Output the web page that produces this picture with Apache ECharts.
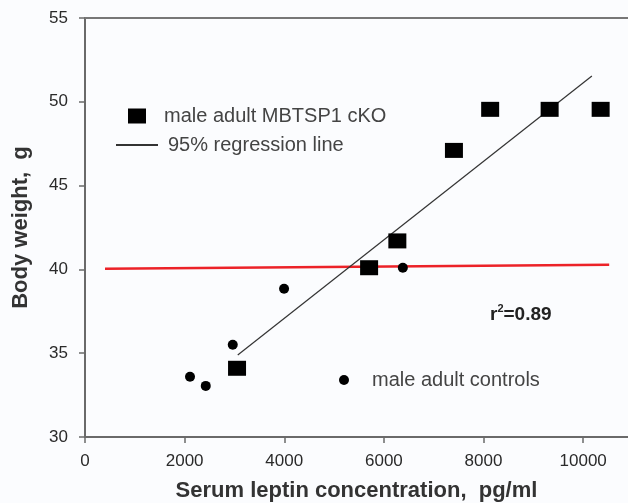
<!DOCTYPE html>
<html>
<head>
<meta charset="utf-8">
<script src="https://cdn.jsdelivr.net/npm/echarts@6/dist/echarts.min.js"></script>
<style>
html,body{margin:0;padding:0;background:#fbfcfe;}
#chart{width:628px;height:503px;}
</style>
</head>
<body>
<div id="chart"></div>
<script>
// Data
const ckoX = [3052, 5703, 6270, 7406, 8133, 9327, 10351];
const ckoY = [34.1, 40.1, 41.7, 47.1, 49.55, 49.55, 49.55];
const ctrlX = [2108, 2424, 2966, 3996, 6380];
const ctrlY = [33.6, 33.05, 35.5, 38.85, 40.1];
const regX = [3066, 10175];
const regY = [34.89, 51.54];
const refX = [402, 10522];
const refY = [40.04, 40.28];
const xTicks = [0, 2000, 4000, 6000, 8000, 10000];
const yTicks = [30, 35, 40, 45, 50, 55];

const FONT = '"Liberation Sans", Arial, sans-serif';
const zip = (xs, ys) => xs.map((x, i) => [x, ys[i]]);

const chart = echarts.init(document.getElementById('chart'));
chart.setOption({
  backgroundColor: '#fbfcfe',
  animation: false,
  grid: {left: 85, right: 0, top: 18, bottom: 66, containLabel: false, outerBoundsMode: 'none'},
  xAxis: [{
    type: 'value', min: xTicks[0], max: 10900, interval: 2000,
    name: 'Serum leptin concentration,  pg/ml', nameLocation: 'middle', nameGap: 43,
    nameTextStyle: {fontFamily: FONT, fontSize: 22, fontWeight: 'bold', color: '#333'},
    axisLine: {lineStyle: {color: '#6a6a6a', width: 2}},
    axisTick: {length: 6, lineStyle: {color: '#6a6a6a', width: 1.5}},
    axisLabel: {fontFamily: FONT, fontSize: 17, color: '#2a2a2a', margin: 16, showMaxLabel: false,
      formatter: v => String(v)},
    splitLine: {show: false}
  }, {
    type: 'value', position: 'top', min: 0, max: 10900,
    axisLine: {show: true, lineStyle: {color: '#777', width: 2}},
    axisTick: {show: false}, axisLabel: {show: false}, splitLine: {show: false}
  }],
  yAxis: {
    type: 'value', min: yTicks[0], max: yTicks[yTicks.length - 1], interval: 5,
    name: 'Body weight,  g', nameLocation: 'middle', nameGap: 53,
    nameTextStyle: {fontFamily: FONT, fontSize: 22, fontWeight: 'bold', color: '#333'},
    axisLine: {show: true, lineStyle: {color: '#6a6a6a', width: 2}},
    axisTick: {show: true, length: 6, lineStyle: {color: '#6a6a6a', width: 1.5}},
    axisLabel: {fontFamily: FONT, fontSize: 17, color: '#2a2a2a', margin: 17, formatter: v => String(v)},
    splitLine: {show: false}
  },
  legend: [{
    data: ['male adult MBTSP1 cKO'], left: 128, top: 106, icon: 'rect', padding: 0,
    itemWidth: 18, itemHeight: 15,
    textStyle: {fontFamily: FONT, fontSize: 20, color: '#444', padding: [0, 0, 0, 13]},
    selectedMode: false
  }, {
    data: ['95% regression line'], left: 115, top: 135, padding: 0,
    itemWidth: 42, itemHeight: 14,
    itemStyle: {opacity: 0},
    textStyle: {fontFamily: FONT, fontSize: 20, color: '#444', padding: [0, 0, 0, 5]},
    selectedMode: false
  }, {
    data: ['male adult controls'], left: 339, top: 370, icon: 'circle', padding: 0,
    itemWidth: 10, itemHeight: 10,
    textStyle: {fontFamily: FONT, fontSize: 20, color: '#444', padding: [0, 0, 0, 18]},
    selectedMode: false
  }],
  graphic: [{
    type: 'text', left: 490, top: 303,
    style: {
      text: '{a|r}{s|2}{a|=0.89}',
      rich: {
        a: {fontFamily: FONT, fontSize: 19, fontWeight: 'bold', fill: '#222', lineHeight: 22},
        s: {fontFamily: FONT, fontSize: 11, fontWeight: 'bold', fill: '#222', padding: [0, 0, 12, 0]}
      }
    }
  }],
  series: [{
    name: 'reference', type: 'line', data: zip(refX, refY), symbol: 'none',
    lineStyle: {color: '#ec2228', width: 2.5}, z: 2, silent: true
  }, {
    name: '95% regression line', type: 'line', data: zip(regX, regY), symbol: 'none',
    lineStyle: {color: '#333', width: 1.2}, itemStyle: {color: '#333'}, z: 3, silent: true
  }, {
    name: 'male adult MBTSP1 cKO', type: 'scatter', data: zip(ckoX, ckoY), symbol: 'rect',
    symbolSize: [18, 15], itemStyle: {color: '#000', opacity: 1}, z: 4
  }, {
    name: 'male adult controls', type: 'scatter', data: zip(ctrlX, ctrlY), symbol: 'circle',
    symbolSize: 10, itemStyle: {color: '#000', opacity: 1}, z: 4
  }]
});
</script>
</body>
</html>
